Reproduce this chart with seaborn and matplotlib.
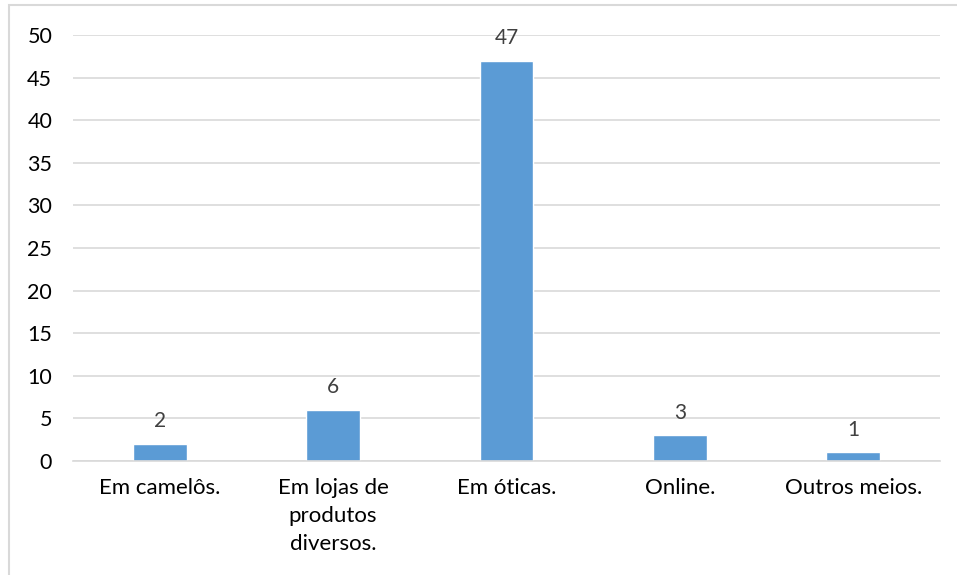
import matplotlib
matplotlib.use("Agg")
import matplotlib.pyplot as plt
import seaborn as sns
from matplotlib.patches import Rectangle

categories = ["Em camelôs.", "Em lojas de\nprodutos\ndiversos.", "Em óticas.", "Online.", "Outros meios."]
values = [2, 6, 47, 3, 1]
yticks = [0, 5, 10, 15, 20, 25, 30, 35, 40, 45, 50]

sns.set_theme(style="white")
plt.rcParams['font.family'] = ['Lato', 'DejaVu Sans']

fig = plt.figure(figsize=(9.57, 5.75), dpi=100)
ax = fig.add_axes([73/957, 1-461/575, (940-73)/957, (461-35)/575])

sns.barplot(x=categories, y=values, color="#5B9BD5", width=0.31, ax=ax, saturation=1)
ax.set_ylim(0, 50)
ax.set_yticks(yticks)
ax.set_xlim(-0.5, len(categories)-0.5)
ax.yaxis.grid(True, color="#D9D9D9", linewidth=1.2)
ax.set_axisbelow(True)
for s in ["top", "right", "left"]:
    ax.spines[s].set_visible(False)
ax.spines["bottom"].set_color("#D9D9D9")
ax.spines["bottom"].set_linewidth(1.2)
ax.tick_params(axis="y", length=0, pad=15, labelsize=15.5, labelcolor="#000000")
ax.tick_params(axis="x", length=0, pad=12, labelsize=16, labelcolor="#000000")
for lab in ax.get_xticklabels():
    lab.set_linespacing(1.5)
    lab.set_horizontalalignment("center")
ax.set_xlabel("")
ax.set_ylabel("")
for c in ax.containers:
    ax.bar_label(c, labels=[str(v) for v in values], padding=9, fontsize=15, color="#404040")

fig.patches.append(Rectangle((9/957, -0.05), 1.1, 1-5/575+0.05, transform=fig.transFigure,
                             fill=False, edgecolor="#D9D9D9", linewidth=1.5, zorder=0))
fig.savefig("out.png", dpi=100, facecolor="white")
